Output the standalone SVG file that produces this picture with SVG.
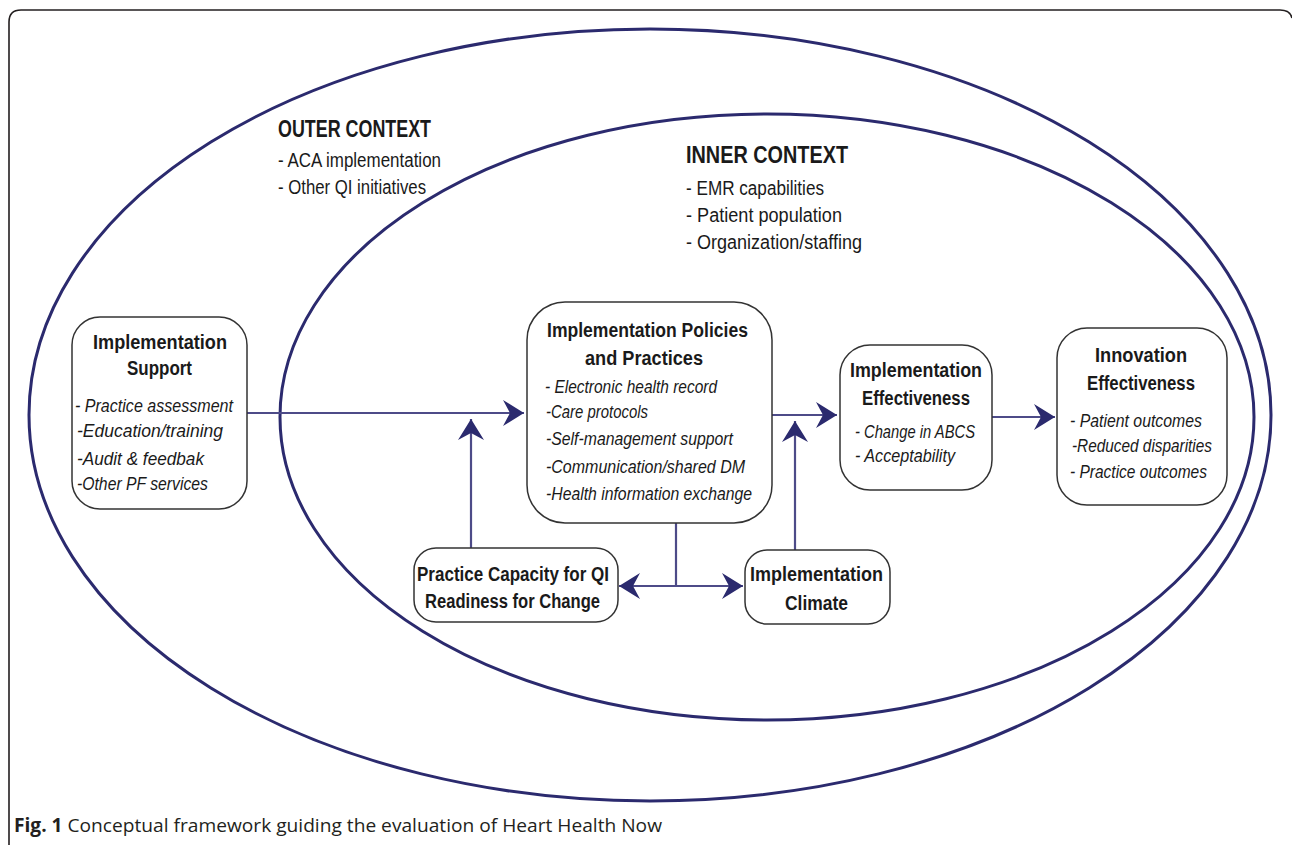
<svg xmlns="http://www.w3.org/2000/svg" width="1292" height="845" viewBox="0 0 1292 845">
<defs>
<style>
.frame{fill:none;stroke:#231f20;stroke-width:1.6}
.ell{fill:none;stroke:#2b2a6e;stroke-width:3}
.box{fill:#fff;stroke:#333;stroke-width:1.5}
.t{font-family:"Liberation Sans",Arial,sans-serif;fill:#1a1a1a}
.ttl{font-size:19.5px;font-weight:bold}
.itm{font-size:19px;font-style:italic}
.ctx{font-size:23px;font-weight:bold}
.ci{font-size:20px}
.cap{font-family:"Open Sans","Liberation Sans",sans-serif;font-size:19px;fill:#231f20}
.ln{fill:none;stroke:#4d4b88;stroke-width:2.2}
</style>
<marker id="ah" markerUnits="userSpaceOnUse" markerWidth="24" markerHeight="28" viewBox="-22 -14 24 28" refX="0" refY="0" orient="auto-start-reverse">
<path d="M0,0 L-21,-13 L-14,0 L-21,13 Z" fill="#2b2a6e"/>
</marker>
</defs>
<rect width="1292" height="845" fill="#fff"/>
<path class="frame" d="M9,860 L9,22 Q9,10 21,10 L1280,10 Q1290,10 1292,18"/>
<g id="outer-context">
<ellipse class="ell" cx="650" cy="415" rx="621" ry="386"/>
<text class="t ctx" x="278" y="137" textLength="153" lengthAdjust="spacingAndGlyphs">OUTER CONTEXT</text>
<text class="t ci" x="278" y="167" textLength="163" lengthAdjust="spacingAndGlyphs">- ACA implementation</text>
<text class="t ci" x="278" y="194" textLength="148" lengthAdjust="spacingAndGlyphs">- Other QI initiatives</text>
</g>
<g id="inner-context">
<ellipse class="ell" cx="767" cy="417" rx="487" ry="303"/>
<text class="t ctx" x="686" y="163" textLength="162" lengthAdjust="spacingAndGlyphs">INNER CONTEXT</text>
<text class="t ci" x="686" y="195" textLength="138" lengthAdjust="spacingAndGlyphs">- EMR capabilities</text>
<text class="t ci" x="686" y="222" textLength="156" lengthAdjust="spacingAndGlyphs">- Patient population</text>
<text class="t ci" x="686" y="249" textLength="176" lengthAdjust="spacingAndGlyphs">- Organization/staffing</text>
</g>
<g id="connectors">
<line class="ln" x1="247" y1="413" x2="524" y2="413" marker-end="url(#ah)"/>
<line class="ln" x1="772" y1="415" x2="837" y2="415" marker-end="url(#ah)"/>
<line class="ln" x1="992" y1="417" x2="1055" y2="417" marker-end="url(#ah)"/>
<line class="ln" x1="471" y1="548" x2="471" y2="419" marker-end="url(#ah)"/>
<line class="ln" x1="795" y1="550" x2="795" y2="421" marker-end="url(#ah)"/>
<line class="ln" x1="676" y1="523" x2="676" y2="586"/>
<line class="ln" x1="619" y1="586" x2="743" y2="586" marker-start="url(#ah)" marker-end="url(#ah)"/>
</g>
<g id="implementation-support">
<rect class="box" x="72" y="317" width="175" height="192" rx="28"/>
<text class="t ttl" x="93" y="349" textLength="134" lengthAdjust="spacingAndGlyphs">Implementation</text>
<text class="t ttl" x="127" y="375" textLength="65" lengthAdjust="spacingAndGlyphs">Support</text>
<text class="t itm" x="75" y="412" textLength="158" lengthAdjust="spacingAndGlyphs">- Practice assessment</text>
<text class="t itm" x="77" y="437" textLength="146" lengthAdjust="spacingAndGlyphs">-Education/training</text>
<text class="t itm" x="77" y="465" textLength="127" lengthAdjust="spacingAndGlyphs">-Audit &amp; feedbak</text>
<text class="t itm" x="77" y="490" textLength="131" lengthAdjust="spacingAndGlyphs">-Other PF services</text>
</g>
<g id="implementation-policies">
<rect class="box" x="527" y="302" width="245" height="221" rx="38"/>
<text class="t ttl" x="547" y="337" textLength="201" lengthAdjust="spacingAndGlyphs">Implementation Policies</text>
<text class="t ttl" x="585" y="365" textLength="118" lengthAdjust="spacingAndGlyphs">and Practices</text>
<text class="t itm" x="545" y="393" textLength="172" lengthAdjust="spacingAndGlyphs">- Electronic health record</text>
<text class="t itm" x="546" y="418" textLength="102" lengthAdjust="spacingAndGlyphs">-Care protocols</text>
<text class="t itm" x="546" y="445" textLength="187" lengthAdjust="spacingAndGlyphs">-Self-management support</text>
<text class="t itm" x="546" y="473" textLength="199" lengthAdjust="spacingAndGlyphs">-Communication/shared DM</text>
<text class="t itm" x="546" y="500" textLength="206" lengthAdjust="spacingAndGlyphs">-Health information exchange</text>
</g>
<g id="practice-capacity">
<rect class="box" x="414" y="548" width="204" height="74" rx="22"/>
<text class="t ttl" x="417" y="581" textLength="192" lengthAdjust="spacingAndGlyphs">Practice Capacity for QI</text>
<text class="t ttl" x="425" y="608" textLength="175" lengthAdjust="spacingAndGlyphs">Readiness for Change</text>
</g>
<g id="implementation-climate">
<rect class="box" x="745" y="550" width="145" height="74" rx="22"/>
<text class="t ttl" x="750" y="581" textLength="133" lengthAdjust="spacingAndGlyphs">Implementation</text>
<text class="t ttl" x="785" y="610" textLength="63" lengthAdjust="spacingAndGlyphs">Climate</text>
</g>
<g id="implementation-effectiveness">
<rect class="box" x="840" y="345" width="152" height="145" rx="30"/>
<text class="t ttl" x="850" y="377" textLength="132" lengthAdjust="spacingAndGlyphs">Implementation</text>
<text class="t ttl" x="862" y="405" textLength="108" lengthAdjust="spacingAndGlyphs">Effectiveness</text>
<text class="t itm" x="855" y="438" textLength="120" lengthAdjust="spacingAndGlyphs">- Change in ABCS</text>
<text class="t itm" x="855" y="462" textLength="100" lengthAdjust="spacingAndGlyphs">- Acceptability</text>
</g>
<g id="innovation-effectiveness">
<rect class="box" x="1057" y="328" width="170" height="177" rx="30"/>
<text class="t ttl" x="1095" y="362" textLength="92" lengthAdjust="spacingAndGlyphs">Innovation</text>
<text class="t ttl" x="1087" y="390" textLength="108" lengthAdjust="spacingAndGlyphs">Effectiveness</text>
<text class="t itm" x="1070" y="427" textLength="132" lengthAdjust="spacingAndGlyphs">- Patient outcomes</text>
<text class="t itm" x="1072" y="452" textLength="140" lengthAdjust="spacingAndGlyphs">-Reduced disparities</text>
<text class="t itm" x="1070" y="478" textLength="137" lengthAdjust="spacingAndGlyphs">- Practice outcomes</text>
</g>
<text class="cap" x="14" y="832" textLength="648" lengthAdjust="spacingAndGlyphs"><tspan font-weight="bold">Fig. 1</tspan> Conceptual framework guiding the evaluation of Heart Health Now</text>
</svg>
